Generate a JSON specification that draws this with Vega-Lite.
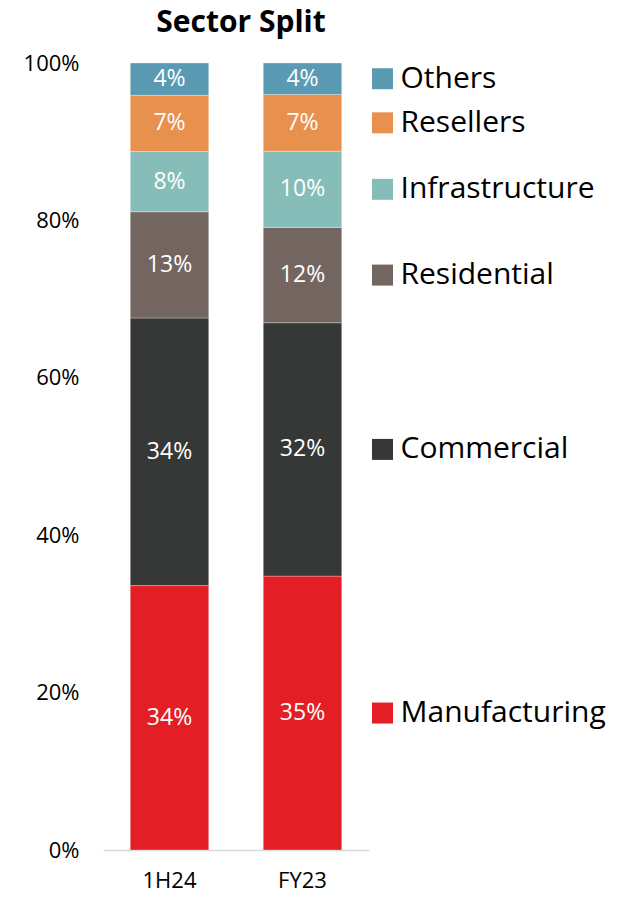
{
  "$schema": "https://vega.github.io/schema/vega-lite/v6.json",
  "autosize": "none",
  "width": 266,
  "height": 787,
  "padding": {"left": 103, "top": 63, "right": 257, "bottom": 50},
  "title": {"text": "Sector Split", "fontSize": 30, "fontWeight": "bold", "font": "Open Sans", "color": "#000000", "anchor": "middle", "offset": 14, "dx": 5},
  "config": {"view": {"stroke": null}, "font": "Open Sans"},
  "data": {"values": [
    {"period": "1H24", "sector": "Manufacturing", "share": 0.336, "label": "34%"},
    {"period": "1H24", "sector": "Commercial", "share": 0.340, "label": "34%"},
    {"period": "1H24", "sector": "Residential", "share": 0.135, "label": "13%"},
    {"period": "1H24", "sector": "Infrastructure", "share": 0.0765, "label": "8%"},
    {"period": "1H24", "sector": "Resellers", "share": 0.0715, "label": "7%"},
    {"period": "1H24", "sector": "Others", "share": 0.041, "label": "4%"},
    {"period": "FY23", "sector": "Manufacturing", "share": 0.348, "label": "35%"},
    {"period": "FY23", "sector": "Commercial", "share": 0.322, "label": "32%"},
    {"period": "FY23", "sector": "Residential", "share": 0.121, "label": "12%"},
    {"period": "FY23", "sector": "Infrastructure", "share": 0.097, "label": "10%"},
    {"period": "FY23", "sector": "Resellers", "share": 0.072, "label": "7%"},
    {"period": "FY23", "sector": "Others", "share": 0.040, "label": "4%"}
  ]},
  "transform": [
    {"window": [{"op": "row_number", "as": "idx"}], "groupby": ["period"]}
  ],
  "encoding": {
    "x": {"field": "period", "type": "nominal", "sort": ["1H24", "FY23"], "title": null,
      "scale": {"paddingInner": 0.41, "paddingOuter": 0.205},
      "axis": {"labelAngle": 0, "labelFontSize": 22, "labelColor": "#000000", "ticks": false, "labelPadding": 20, "domainColor": "#d9d9d9", "domainWidth": 1.5}},
    "y": {"field": "share", "type": "quantitative", "stack": "zero", "title": null,
      "scale": {"domain": [0, 1], "nice": false},
      "axis": {"format": ".0%", "values": [0, 0.2, 0.4, 0.6, 0.8, 1], "labelFontSize": 22, "labelColor": "#000000", "ticks": false, "domain": false, "grid": false, "labelPadding": 24}},
    "color": {"field": "sector", "type": "nominal",
      "scale": {"domain": ["Manufacturing", "Commercial", "Residential", "Infrastructure", "Resellers", "Others"],
        "range": ["#e31e25", "#363837", "#736661", "#86bdb8", "#e8904e", "#5a9bb3"]},
      "legend": null},
    "order": {"field": "idx", "type": "quantitative", "sort": "ascending"}
  },
  "layer": [
    {"mark": {"type": "bar", "stroke": "#ffffff", "strokeWidth": 0.6, "strokeOpacity": 0.5}},
    {"mark": {"type": "text", "fontSize": 23, "baseline": "middle", "align": "center"},
      "encoding": {
        "y": {"field": "share", "type": "quantitative", "stack": "zero", "bandPosition": 0.5},
        "text": {"field": "label"},
        "color": {"value": "#ffffff"},
        "detail": {"field": "sector"}
      }},
    {"transform": [{"filter": "datum.period === 'FY23'"}],
      "mark": {"type": "point", "shape": "square", "filled": true, "size": 441, "opacity": 1, "xOffset": 80},
      "encoding": {
        "y": {"field": "share", "type": "quantitative", "stack": "zero", "bandPosition": 0.5}
      }},
    {"transform": [{"filter": "datum.period === 'FY23'"}],
      "mark": {"type": "text", "fontSize": 30, "align": "left", "baseline": "middle", "dx": 98},
      "encoding": {
        "y": {"field": "share", "type": "quantitative", "stack": "zero", "bandPosition": 0.5},
        "text": {"field": "sector"},
        "color": {"value": "#000000"},
        "detail": {"field": "sector"}
      }}
  ]
}
